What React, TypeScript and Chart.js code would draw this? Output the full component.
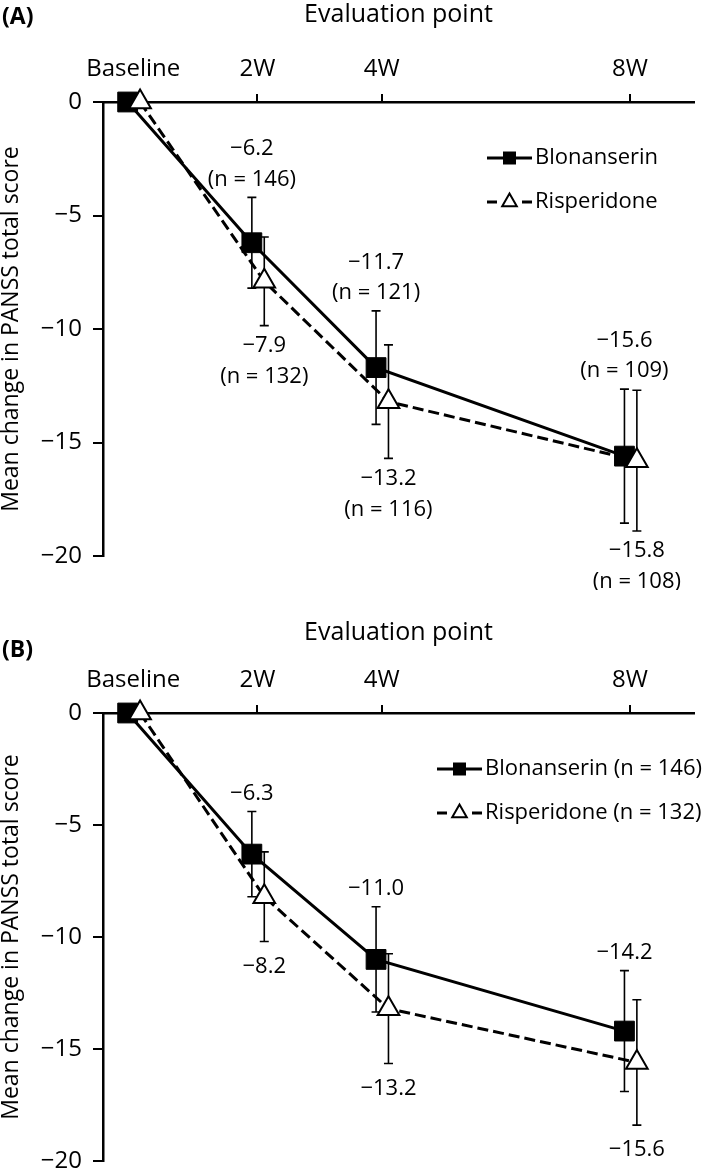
import React, { useEffect, useRef } from 'react';
import { Chart, registerables } from 'chart.js';

Chart.register(...registerables);

// ---- shared categories ----
const weeks = [0, 2, 4, 8];
const tickLabels = ['Baseline', '2W', '4W', '8W'];
const seriesNames = ['Blonanserin', 'Risperidone'];

// ---- Panel A ----
const blonA = [0, -6.2, -11.7, -15.6];
const blonA_sd = [0, 2.0, 2.5, 2.95];
const blonA_n = [null, 146, 121, 109];
const rispA = [0, -7.9, -13.2, -15.8];
const rispA_sd = [0, 1.95, 2.5, 3.1];
const rispA_n = [null, 132, 116, 108];

// ---- Panel B ----
const blonB = [0, -6.3, -11.0, -14.2];
const blonB_sd = [0, 1.9, 2.35, 2.7];
const rispB = [0, -8.2, -13.2, -15.6];
const rispB_sd = [0, 2.0, 2.45, 2.8];
const legendB = ['Blonanserin (n = 146)', 'Risperidone (n = 132)'];

const FONT = '"Open Sans", "DejaVu Sans", sans-serif';

type Series = {
  name: string;
  values: number[];
  sd: number[];
  n: (number | null)[] | null;
  dx: number;
  side: 'above' | 'below';
  filled: boolean;
};

type Panel = {
  letter: string;
  letterY: number;
  height: number;
  padTop: number;
  padBottom: number;
  axisTop: number;
  legendX: number;
  belowGap: number;
  series: Series[];
};

const fmt = (v: number) => (v < 0 ? '\u2212' : '') + Math.abs(v).toFixed(1);

const panelA: Panel = {
  letter: '(A)',
  letterY: 17,
  height: 590,
  padTop: 0,
  padBottom: 34,
  axisTop: 102,
  legendX: 487,
  belowGap: 20,
  series: [
    { name: seriesNames[0], values: blonA, sd: blonA_sd, n: blonA_n, dx: -0.09, side: 'above', filled: true },
    { name: seriesNames[1], values: rispA, sd: rispA_sd, n: rispA_n, dx: 0.11, side: 'below', filled: false },
  ],
};

const panelB: Panel = {
  letter: '(B)',
  letterY: 60,
  height: 586,
  padTop: 28,
  padBottom: 9,
  axisTop: 123,
  legendX: 437,
  belowGap: 25,
  series: [
    { name: legendB[0], values: blonB, sd: blonB_sd, n: null, dx: -0.09, side: 'above', filled: true },
    { name: legendB[1], values: rispB, sd: rispB_sd, n: null, dx: 0.11, side: 'below', filled: false },
  ],
};

function drawMarker(ctx: CanvasRenderingContext2D, filled: boolean, x: number, y: number, s: number) {
  ctx.save();
  ctx.setLineDash([]);
  ctx.beginPath();
  if (filled) {
    ctx.rect(x - s / 2, y - s / 2, s, s);
    ctx.fillStyle = '#000';
    ctx.fill();
  } else {
    const r = s * 0.6;
    ctx.moveTo(x, y - r);
    ctx.lineTo(x + r * 0.866, y + r * 0.5);
    ctx.lineTo(x - r * 0.866, y + r * 0.5);
    ctx.closePath();
    ctx.fillStyle = '#fff';
    ctx.fill();
    ctx.lineWidth = 2;
    ctx.strokeStyle = '#000';
    ctx.stroke();
  }
  ctx.restore();
}

function makePlugin(p: Panel) {
  return {
    id: 'extras' + p.letter,
    beforeDatasetsDraw(chart: any) {
      const ctx: CanvasRenderingContext2D = chart.ctx;
      const xs = chart.scales.x;
      const ys = chart.scales.y;
      ctx.save();
      ctx.strokeStyle = '#000';
      ctx.lineWidth = 1.6;
      ctx.setLineDash([]);
      p.series.forEach((s) => {
        s.values.forEach((v, i) => {
          const e = s.sd[i];
          if (!e) return;
          const px = xs.getPixelForValue(weeks[i] + s.dx);
          const t = ys.getPixelForValue(v + e);
          const b = ys.getPixelForValue(v - e);
          ctx.beginPath();
          ctx.moveTo(px, t);
          ctx.lineTo(px, b);
          ctx.moveTo(px - 4.5, t);
          ctx.lineTo(px + 4.5, t);
          ctx.moveTo(px - 4.5, b);
          ctx.lineTo(px + 4.5, b);
          ctx.stroke();
        });
      });
      ctx.restore();
    },
    afterDatasetsDraw(chart: any) {
      const ctx: CanvasRenderingContext2D = chart.ctx;
      const xs = chart.scales.x;
      const ys = chart.scales.y;
      const area = chart.chartArea;
      ctx.save();
      ctx.fillStyle = '#000';
      ctx.font = '22px ' + FONT;
      ctx.textAlign = 'center';
      ctx.textBaseline = 'middle';
      // value annotations
      p.series.forEach((s) => {
        s.values.forEach((v, i) => {
          const e = s.sd[i];
          if (!e) return;
          const px = xs.getPixelForValue(weeks[i] + s.dx);
          const lines = [fmt(v)];
          if (s.n && s.n[i] != null) lines.push('(n = ' + s.n[i] + ')');
          if (s.side === 'above') {
            const t = ys.getPixelForValue(v + e);
            lines.forEach((ln, k) => {
              ctx.fillText(ln, px, t - 18 - (lines.length - 1 - k) * 30.5);
            });
          } else {
            const b = ys.getPixelForValue(v - e);
            lines.forEach((ln, k) => {
              ctx.fillText(ln, px, b + p.belowGap + k * 31);
            });
          }
        });
      });
      // legend
      ctx.textAlign = 'left';
      p.series.forEach((s, k) => {
        const ry = area.top + (k === 0 ? 56 : 100);
        const x0 = p.legendX;
        ctx.save();
        ctx.strokeStyle = '#000';
        ctx.lineWidth = 3;
        if (!s.filled) ctx.setLineDash([10, 25]);
        ctx.beginPath();
        ctx.moveTo(x0, ry);
        ctx.lineTo(x0 + 45, ry);
        ctx.stroke();
        ctx.restore();
        drawMarker(ctx, s.filled, x0 + 22.5, ry, s.filled ? 13 : 14);
        ctx.fillStyle = '#000';
        ctx.fillText(s.name, x0 + 48, ry);
      });
      // panel letter
      ctx.font = 'bold 23px ' + FONT;
      ctx.fillText(p.letter, 2, p.letterY);
      ctx.restore();
    },
  };
}

function PanelChart({ p, top }: { p: Panel; top: number }) {
  const ref = useRef<HTMLCanvasElement | null>(null);
  useEffect(() => {
    if (!ref.current) return;
    const datasets = p.series.map((s, di) => ({
      label: s.name,
      data: s.values.map((v, i) => ({ x: weeks[i] + s.dx, y: v })),
      borderColor: '#000',
      borderWidth: 3,
      borderDash: s.filled ? [] : [11, 5],
      pointStyle: s.filled ? 'rect' : 'triangle',
      pointRadius: s.filled ? 14 : 12.5,
      pointBorderWidth: s.filled ? 1 : 2,
      pointBackgroundColor: s.filled ? '#000' : '#fff',
      pointBorderColor: '#000',
      tension: 0,
      fill: false,
      clip: false,
      order: di === 0 ? 1 : 0,
    }));
    const chart = new Chart(ref.current, {
      type: 'line',
      data: { datasets },
      options: {
        animation: false,
        responsive: false,
        maintainAspectRatio: false,
        events: [],
        layout: { padding: { top: p.padTop, bottom: p.padBottom, left: 0, right: 0 } },
        font: { family: FONT },
        plugins: { legend: { display: false }, tooltip: { enabled: false }, title: { display: false } },
        scales: {
          x: {
            type: 'linear',
            position: 'top',
            min: -0.487,
            max: 9.03,
            afterBuildTicks: (s: any) => {
              s.ticks = weeks.map((v) => ({ value: v }));
            },
            afterFit: (s: any) => {
              s.height = p.axisTop - p.padTop;
              s.paddingLeft = 0;
              s.paddingRight = 0;
            },
            ticks: {
              callback: (v: any) => {
                const i = weeks.indexOf(Number(v));
                return i >= 0 ? tickLabels[i] : '';
              },
              font: { size: 24, family: FONT },
              color: '#000',
              padding: 10,
              maxRotation: 0,
              autoSkip: false,
            },
            grid: { drawOnChartArea: false, drawTicks: true, tickLength: 8, color: '#000', lineWidth: 2 },
            border: { display: true, color: '#000', width: 2.5 },
            title: {
              display: true,
              text: 'Evaluation point',
              font: { size: 25, family: FONT },
              color: '#000',
              padding: { top: 0, bottom: 0 },
            },
          },
          y: {
            type: 'linear',
            min: -20,
            max: 0,
            afterFit: (s: any) => {
              s.width = 103;
              s.paddingTop = 0;
              s.paddingBottom = 0;
            },
            ticks: {
              stepSize: 5,
              callback: (v: any) => (Number(v) === 0 ? '0' : '\u2212' + Math.abs(Number(v))),
              font: { size: 24, family: FONT },
              color: '#000',
              padding: 11,
            },
            grid: { drawOnChartArea: false, drawTicks: true, tickLength: 10, color: '#000', lineWidth: 2 },
            border: { display: true, color: '#000', width: 2.5 },
            title: {
              display: true,
              text: 'Mean change in PANSS total score',
              font: { size: 23, family: FONT, lineHeight: 1 },
              color: '#000',
              padding: { top: 0, bottom: 0 },
            },
          },
        },
      } as any,
      plugins: [makePlugin(p)],
    });
    return () => chart.destroy();
  }, [p]);
  return (
    <canvas
      ref={ref}
      width={709}
      height={p.height}
      style={{ position: 'absolute', left: 0, top, width: 709, height: p.height, display: 'block' }}
    />
  );
}

export default function App() {
  return (
    <div style={{ position: 'absolute', left: 0, top: 0, width: 709, height: 1176, background: '#fff' }}>
      <PanelChart p={panelA} top={0} />
      <PanelChart p={panelB} top={590} />
    </div>
  );
}
